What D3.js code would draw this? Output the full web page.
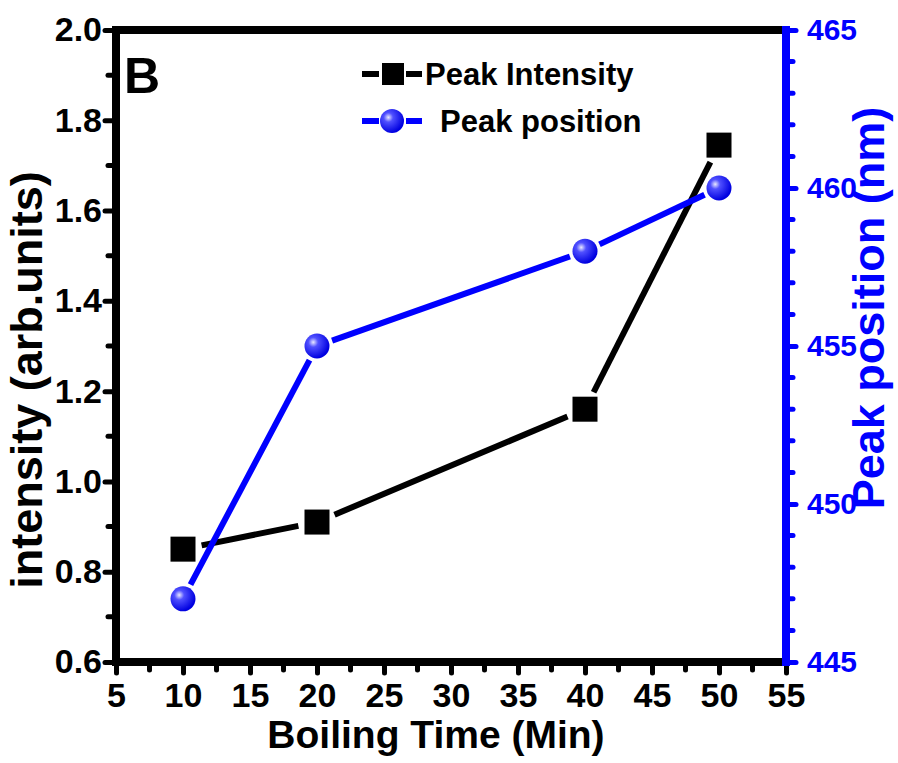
<!DOCTYPE html>
<html>
<head>
<meta charset="utf-8">
<script src="https://cdn.jsdelivr.net/npm/d3@7"></script>
<style>
  body { margin: 0; background: #fff; }
  svg text { font-family: "Liberation Sans", Arial, sans-serif; font-weight: bold; }
  svg .tick text { font-family: "Liberation Sans Narrow", "Arial Narrow", "Liberation Sans", sans-serif; }
</style>
</head>
<body>
<svg id="chart" width="898" height="763"></svg>
<script>
// data
var boilTime = [10, 20, 40, 50];
var peakIntensity = [0.85, 0.91, 1.16, 1.745];
var peakPosition = [447, 455, 458, 460];
var xTicks = [5, 10, 15, 20, 25, 30, 35, 40, 45, 50, 55];
var yLeftTicks = [0.6, 0.8, 1.0, 1.2, 1.4, 1.6, 1.8, 2.0];
var yRightTicks = [445, 450, 455, 460, 465];

var svg = d3.select("#chart");
var pLeft = 116, pRight = 786, pTop = 30, pBottom = 662;
var blue = "#0000ff";

var x = d3.scaleLinear().domain([5, 55]).range([pLeft, pRight]);
var yL = d3.scaleLinear().domain([0.6, 2.0]).range([pBottom, pTop]);
var yR = d3.scaleLinear().domain([445, 465]).range([pBottom, pTop]);

var defs = svg.append("defs");
var grad = defs.append("radialGradient").attr("id", "ball")
    .attr("cx", "35%").attr("cy", "35%").attr("r", "65%");
grad.append("stop").attr("offset", "0%").attr("stop-color", "#e8e8ff");
grad.append("stop").attr("offset", "30%").attr("stop-color", "#5050ff");
grad.append("stop").attr("offset", "100%").attr("stop-color", "#0000e0");

// minor ticks
var xMinor = d3.range(7.5, 55, 5);
var yLMinor = d3.range(0.7, 2.0, 0.2);
var yRMinor = d3.range(445, 465, 1).filter(function (d) { return d % 5 != 0; });

function styleAxis(g, color) {
    g.select(".domain").remove();
    g.attr("font-family", null);
    g.selectAll(".tick line").attr("stroke", color).attr("stroke-width", 5).attr("stroke-linecap", "round");
    g.selectAll(".tick text").attr("fill", color);
}

// left axis
var gl = svg.append("g").attr("transform", "translate(" + (pLeft - 3) + ",0)")
    .call(d3.axisLeft(yL).tickValues(yLeftTicks).tickFormat(d3.format(".1f")).tickSize(8).tickPadding(3));
styleAxis(gl, "#000");
gl.selectAll(".tick text").attr("font-size", 34);
svg.append("g").selectAll("line").data(yLMinor).join("line")
    .attr("x1", pLeft - 3).attr("x2", pLeft - 8).attr("y1", d => yL(d)).attr("y2", d => yL(d))
    .attr("stroke", "#000").attr("stroke-width", 5).attr("stroke-linecap", "round");

// bottom axis
var gb = svg.append("g").attr("transform", "translate(0," + (pBottom + 3) + ")")
    .call(d3.axisBottom(x).tickValues(xTicks).tickSize(8).tickPadding(10));
styleAxis(gb, "#000");
gb.selectAll(".tick text").attr("font-size", 34);
svg.append("g").selectAll("line").data(xMinor).join("line")
    .attr("x1", d => x(d)).attr("x2", d => x(d)).attr("y1", pBottom + 3).attr("y2", pBottom + 8)
    .attr("stroke", "#000").attr("stroke-width", 5).attr("stroke-linecap", "round");

// right axis
var gr = svg.append("g").attr("transform", "translate(" + (pRight + 3) + ",0)")
    .call(d3.axisRight(yR).tickValues(yRightTicks).tickSize(7).tickPadding(11));
styleAxis(gr, blue);
gr.selectAll(".tick text").attr("font-size", 30);
svg.append("g").selectAll("line").data(yRMinor).join("line")
    .attr("x1", pRight + 3).attr("x2", pRight + 7).attr("y1", d => yR(d)).attr("y2", d => yR(d))
    .attr("stroke", blue).attr("stroke-width", 5).attr("stroke-linecap", "round");

// frame
svg.append("line").attr("x1", pLeft - 4).attr("x2", pRight).attr("y1", pTop).attr("y2", pTop)
    .attr("stroke", "#000").attr("stroke-width", 8);
svg.append("line").attr("x1", pLeft - 4).attr("x2", pRight).attr("y1", pBottom).attr("y2", pBottom)
    .attr("stroke", "#000").attr("stroke-width", 8);
svg.append("line").attr("x1", pLeft).attr("x2", pLeft).attr("y1", pTop - 4).attr("y2", pBottom + 4)
    .attr("stroke", "#000").attr("stroke-width", 8);
svg.append("line").attr("x1", pRight).attr("x2", pRight).attr("y1", pTop - 4).attr("y2", pBottom + 4)
    .attr("stroke", blue).attr("stroke-width", 8);

// lines drawn as segments with a gap at each marker
function gapSegments(xs, ys, gap) {
    var segs = [];
    for (var i = 0; i < xs.length - 1; i++) {
        var x1 = xs[i], y1 = ys[i], x2 = xs[i + 1], y2 = ys[i + 1];
        var dx = x2 - x1, dy = y2 - y1, len = Math.sqrt(dx * dx + dy * dy);
        var ux = dx / len, uy = dy / len;
        segs.push([x1 + ux * gap, y1 + uy * gap, x2 - ux * gap, y2 - uy * gap]);
    }
    return segs;
}

var blackSegs = gapSegments(boilTime.map(x), peakIntensity.map(yL), 19);
svg.append("g").selectAll("line").data(blackSegs).join("line")
    .attr("x1", d => d[0]).attr("y1", d => d[1]).attr("x2", d => d[2]).attr("y2", d => d[3])
    .attr("stroke", "#000").attr("stroke-width", 6);

var blueSegs = gapSegments(boilTime.map(x), peakPosition.map(yR), 16);
svg.append("g").selectAll("line").data(blueSegs).join("line")
    .attr("x1", d => d[0]).attr("y1", d => d[1]).attr("x2", d => d[2]).attr("y2", d => d[3])
    .attr("stroke", blue).attr("stroke-width", 6);

svg.append("g").selectAll("rect").data(boilTime).join("rect")
    .attr("x", (d) => x(d) - 12.5).attr("y", (d, i) => yL(peakIntensity[i]) - 12.5)
    .attr("width", 25).attr("height", 25).attr("fill", "#000");

svg.append("g").selectAll("circle").data(boilTime).join("circle")
    .attr("cx", d => x(d)).attr("cy", (d, i) => yR(peakPosition[i]))
    .attr("r", 12.5).attr("fill", "url(#ball)");

// panel letter
svg.append("text").attr("x", 124).attr("y", 93).attr("font-size", 50).text("B");

// legend
var lg = svg.append("g");
lg.append("line").attr("x1", 362).attr("x2", 422).attr("y1", 74).attr("y2", 74)
    .attr("stroke", "#000").attr("stroke-width", 6).attr("stroke-dasharray", "17,27,17");
lg.append("rect").attr("x", 382).attr("y", 63).attr("width", 22).attr("height", 22).attr("fill", "#000");
lg.append("text").attr("x", 425).attr("y", 85).attr("font-size", 31).text("Peak Intensity");
lg.append("line").attr("x1", 362).attr("x2", 422).attr("y1", 121).attr("y2", 121)
    .attr("stroke", blue).attr("stroke-width", 6).attr("stroke-dasharray", "17,27,17");
lg.append("circle").attr("cx", 392).attr("cy", 121).attr("r", 12).attr("fill", "url(#ball)");
lg.append("text").attr("x", 440).attr("y", 132).attr("font-size", 31).text("Peak position");

// axis titles
svg.append("text").attr("text-anchor", "middle").attr("x", 436).attr("y", 748)
    .attr("font-size", 39).text("Boiling Time (Min)");
svg.append("text").attr("text-anchor", "middle")
    .attr("transform", "translate(42,380) rotate(-90)")
    .attr("font-size", 45).text("intensity (arb.units)");
svg.append("text").attr("text-anchor", "middle").attr("fill", blue)
    .attr("transform", "translate(884,308) rotate(-90)")
    .attr("font-size", 45).text("Peak position (nm)");
</script>
</body>
</html>
